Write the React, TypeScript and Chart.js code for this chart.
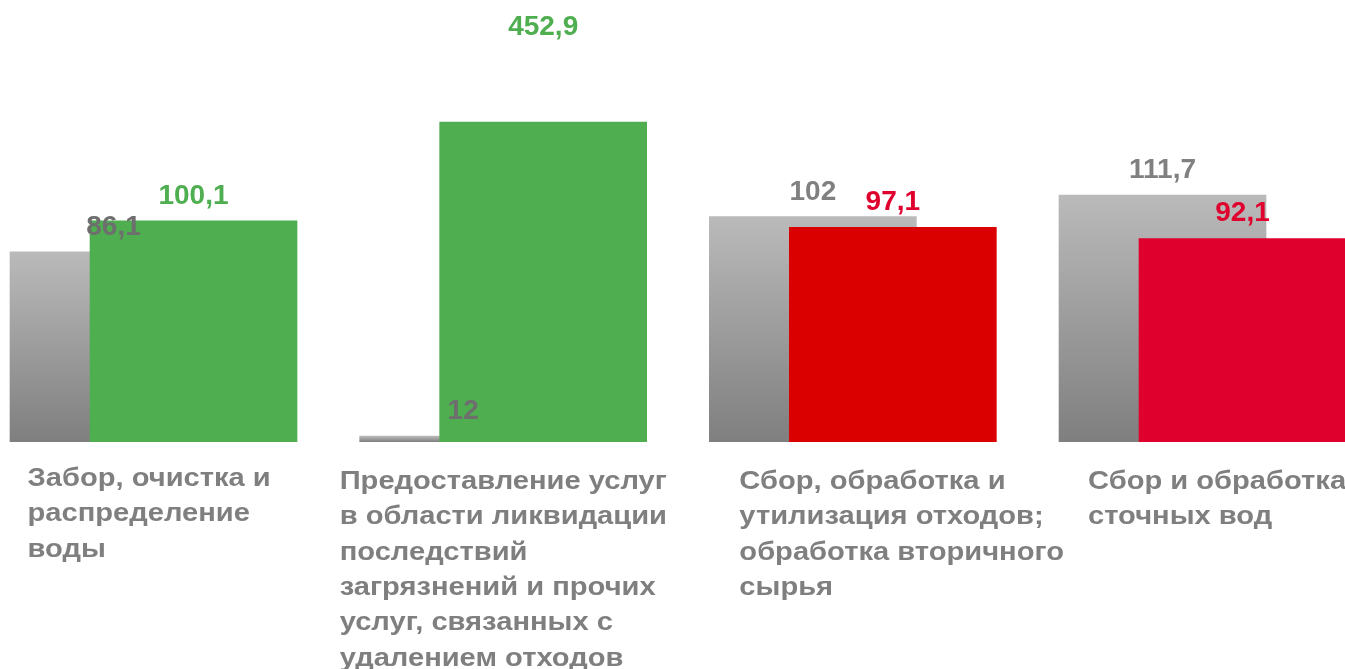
import React, { useEffect, useRef } from 'react';
import { Chart, registerables } from 'chart.js';

Chart.register(...registerables);

// ---- data ----
const categories: string[][] = [
  ['Забор, очистка и', 'распределение', 'воды'],
  ['Предоставление услуг', 'в области ликвидации', 'последствий', 'загрязнений и прочих', 'услуг, связанных с', 'удалением отходов'],
  ['Сбор, обработка и', 'утилизация отходов;', 'обработка вторичного', 'сырья'],
  ['Сбор и обработка', 'сточных вод'],
];
const previousLabels = ['86,1', '12', '102', '111,7'];
const currentLabels = ['100,1', '452,9', '97,1', '92,1'];
// bar heights as drawn in the picture
const previousBars = [86.1, 2.7, 102, 111.7];
const currentBars = [100.1, 144.8, 97.1, 92.1];

// ---- styles / layout ----
const FONT = '"Liberation Sans", Arial, Helvetica, sans-serif';
const GREY_TOP = '#BBBABA';
const GREY_BOTTOM = '#7F7F7F';
const currentColors = ['#4FAE50', '#4FAE50', '#DA0000', '#E0002D'];
const currentLabelColors = ['#4FAE50', '#4FAE50', '#E0002D', '#E0002D'];
const previousLabelColors = ['#6E6E6E', '#6E6E6E', '#808080', '#808080'];
const currentLabelLift = [0, 70, 0, 0];
const PAIR_SHIFT = 0.1144;
const LABEL_DX = [-126, -163.5, -113.5, -114.5];
const LABEL_DY = [44, 47, 47, 47];
const LINE_H = 35.3;
const LABEL_STRETCH = 1.12;

function greyGradient(context: any) {
  const chart = context.chart;
  if (!chart.chartArea) return GREY_TOP;
  const y = chart.scales.y;
  const v = context.parsed ? context.parsed.y : 0;
  const top = y.getPixelForValue(v);
  const bottom = y.getPixelForValue(0);
  if (!(bottom > top)) return GREY_TOP;
  const g = chart.ctx.createLinearGradient(0, top, 0, bottom);
  g.addColorStop(0, GREY_TOP);
  g.addColorStop(1, GREY_BOTTOM);
  return g;
}

const valueLabels = {
  id: 'valueLabels',
  afterDatasetsDraw(chart: any) {
    const ctx = chart.ctx;
    ctx.save();
    ctx.font = `bold 28px ${FONT}`;
    ctx.textAlign = 'center';
    ctx.textBaseline = 'alphabetic';
    chart.data.datasets.forEach((ds: any, di: number) => {
      const meta = chart.getDatasetMeta(di);
      meta.data.forEach((bar: any, i: number) => {
        const lift = ds.labelLift ? ds.labelLift[i] : 0;
        ctx.fillStyle = ds.labelColors[i];
        ctx.fillText(ds.valueLabels[i], bar.x, bar.y - 17 - lift);
      });
    });
    ctx.restore();
  },
};

const categoryLabels = {
  id: 'categoryLabels',
  afterDraw(chart: any) {
    const { ctx, chartArea, scales } = chart;
    ctx.save();
    ctx.font = `bold 26px ${FONT}`;
    ctx.fillStyle = '#7F7F7F';
    ctx.textAlign = 'left';
    ctx.textBaseline = 'alphabetic';
    categories.forEach((lines, i) => {
      const x = scales.x.getPixelForValue(i) + LABEL_DX[i];
      lines.forEach((line, j) => {
        ctx.save();
        ctx.translate(x, chartArea.bottom + LABEL_DY[i] + j * LINE_H);
        ctx.scale(LABEL_STRETCH, 1);
        ctx.fillText(line, 0, 0);
        ctx.restore();
      });
    });
    ctx.restore();
  },
};

export default function App() {
  const ref = useRef<HTMLCanvasElement>(null);
  useEffect(() => {
    if (!ref.current) return;
    const chart = new Chart(ref.current, {
      type: 'bar',
      data: {
        datasets: [
          {
            label: 'prev',
            data: previousBars.map((v, i) => ({ x: i - PAIR_SHIFT, y: v })),
            backgroundColor: greyGradient,
            borderWidth: 0,
            grouped: false,
            barThickness: 207,
            order: 1,
            valueLabels: previousLabels,
            labelColors: previousLabelColors,
          } as any,
          {
            label: 'curr',
            data: currentBars.map((v, i) => ({ x: i + PAIR_SHIFT, y: v })),
            backgroundColor: currentColors,
            borderWidth: 0,
            grouped: false,
            barThickness: 207,
            order: 0,
            valueLabels: currentLabels,
            labelColors: currentLabelColors,
            labelLift: currentLabelLift,
          } as any,
        ],
      },
      options: {
        responsive: false,
        animation: false,
        devicePixelRatio: 1,
        layout: { padding: { top: 0, left: 0, right: 0, bottom: 227 } },
        plugins: { legend: { display: false }, tooltip: { enabled: false } },
        scales: {
          x: { type: 'linear', display: false, offset: false, min: -0.439, max: 3.4075 },
          y: { display: false, min: 0, max: 200 },
        },
      },
      plugins: [valueLabels, categoryLabels],
    });
    return () => chart.destroy();
  }, []);
  return (
    <div style={{ position: 'absolute', left: 0, top: 0, width: 1345, height: 669, background: '#fff' }}>
      <canvas ref={ref} width={1345} height={669} />
    </div>
  );
}
